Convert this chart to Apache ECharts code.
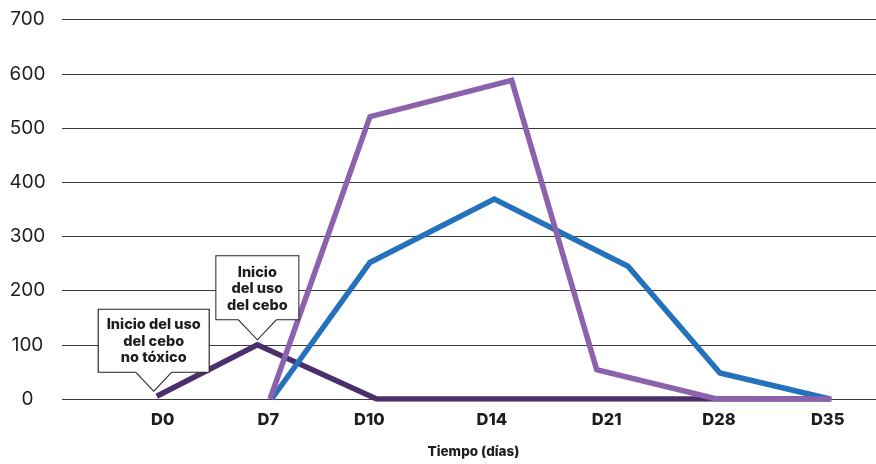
<!DOCTYPE html>
<html>
<head>
<meta charset="utf-8">
<script src="https://cdn.jsdelivr.net/npm/echarts@6/dist/echarts.min.js"></script>
<style>html,body{margin:0;padding:0;background:#fff}#c{width:876px;height:464px}</style>
</head>
<body>
<div id="c"></div>
<script>
// Category labels and where they sit on the (index-based) time axis
const xLabels = ['D0', 'D7', 'D10', 'D14', 'D21', 'D28', 'D35'];
const xTickPos = [0, 0.953, 1.864, 2.969, 4.006, 5.019, 6.0];

// Dark purple series (non-toxic bait)
const darkX = [-0.054, 0.854, 1.931, 6.02];
const darkY = [5, 100, 0, 0];

// Blue series
const blueX = [0.983, 1.870, 2.992, 4.198, 5.028, 6.02];
const blueY = [0, 252, 369, 245, 48, 0];

// Light purple series
const purpleX = [0.968, 1.870, 3.149, 3.916, 4.999, 6.036];
const purpleY = [0, 521, 588, 54, 0, 0];

const yTicks = [0, 700, 100]; // min, max, interval

const note1 = 'Inicio del uso\ndel cebo\nno tóxico';
const note2 = 'Inicio\ndel uso\ndel cebo';

const FONT = 'Inter, Lato, "Noto Sans", sans-serif';
const zip = (xs, ys) => xs.map((x, i) => [x, ys[i]]);

const chart = echarts.init(document.getElementById('c'), null, { renderer: 'canvas' });

const noteLabel = {
  show: true, position: 'inside', color: '#1e1e1e', fontFamily: FONT,
  fontWeight: 800, fontSize: 14.5, lineHeight: 16.5, align: 'center'
};

chart.setOption({
  animation: false,
  backgroundColor: '#fff',
  grid: { left: 62, right: 0, top: 19.7, bottom: 60, containLabel: false },
  xAxis: {
    type: 'value',
    min: -0.9086, max: 6.436,
    name: 'Tiempo (días)', nameLocation: 'middle', nameGap: 46,
    nameTextStyle: { fontFamily: FONT, fontWeight: 800, fontSize: 13.5, color: '#1e1e1e', padding: [0, 0, 0, 9] },
    axisLine: { show: false },
    axisTick: { show: false, customValues: xTickPos },
    splitLine: { show: false },
    axisLabel: {
      customValues: xTickPos,
      formatter: v => { const i = xTickPos.indexOf(v); return i >= 0 ? xLabels[i] : ''; },
      fontFamily: FONT, fontWeight: 800, fontSize: 16.5, color: '#1e1e1e', margin: 13
    }
  },
  yAxis: {
    type: 'value', min: yTicks[0], max: yTicks[1], interval: yTicks[2],
    axisLine: { show: false }, axisTick: { show: false },
    splitLine: { show: true, lineStyle: { color: '#3a3a3a', width: 1 } },
    axisLabel: { fontFamily: FONT, fontSize: 19, color: '#1e1e1e', align: 'center', margin: 34.5 }
  },
  series: [
    {
      type: 'line', data: zip(darkX, darkY), showSymbol: false, z: 2,
      lineStyle: { color: '#4a2f6b', width: 5.5, cap: 'butt', join: 'miter' },
      markPoint: {
        silent: true,
        itemStyle: { color: '#fff', borderColor: '#222', borderWidth: 1 },
        data: [
          {
            coord: [darkX[0], darkY[0]],
            symbol: 'path://M0,0H111V63H73.5L55.5,82L37.5,63H0Z',
            symbolSize: [111, 82], symbolOffset: [-3, -46],
            label: Object.assign({}, noteLabel, { formatter: note1, offset: [0, -9] })
          },
          {
            coord: [darkX[1], darkY[1]],
            symbol: 'path://M0,0H83V64H60.5L41.5,84L22.5,64H0Z',
            symbolSize: [83, 84], symbolOffset: [0, -47],
            label: Object.assign({}, noteLabel, { formatter: note2, offset: [0, -9] })
          }
        ]
      }
    },
    {
      type: 'line', data: zip(blueX, blueY), showSymbol: false, z: 3,
      lineStyle: { color: '#2471bc', width: 5.5, cap: 'butt', join: 'miter' }
    },
    {
      type: 'line', data: zip(purpleX, purpleY), showSymbol: false, z: 4,
      lineStyle: { color: '#8d62ad', width: 5.5, cap: 'butt', join: 'miter' }
    }
  ]
});
</script>
</body>
</html>
